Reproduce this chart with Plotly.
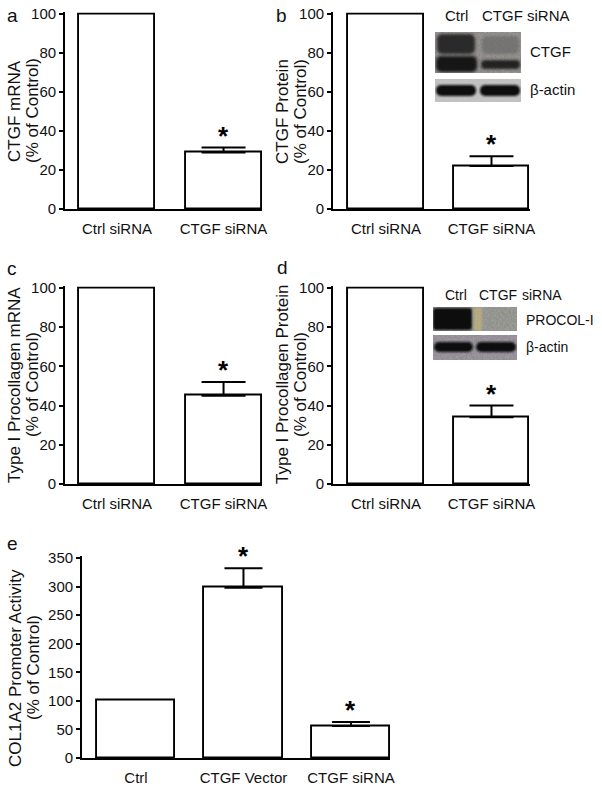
import base64
import plotly.graph_objects as go

W, H = 602, 788

# ---------------- data ----------------
labels_ab = ["Ctrl siRNA", "CTGF siRNA"]
ctgf_mrna = [100, 29]
ctgf_mrna_err = [None, 2.5]
ctgf_protein = [100, 22]
ctgf_protein_err = [None, 5]
procol_mrna = [100, 45]
procol_mrna_err = [None, 7]
procol_protein = [100, 34]
procol_protein_err = [None, 6]
labels_e = ["Ctrl", "CTGF Vector", "CTGF siRNA"]
promoter = [100, 298, 56]
promoter_err = [None, 34, 7]
ticks_ad = [0, 20, 40, 60, 80, 100]
ticks_e = [0, 50, 100, 150, 200, 250, 300, 350]

FONT = "Liberation Sans, Arial, sans-serif"
HEADROOM = 1.008  # tiny extra range so the top outline of full-height bars stays visible


def px(x):
    return x / W


def py(y):
    return 1 - y / H


fig = go.Figure()

panels = [
    dict(ax="", labels=labels_ab, vals=ctgf_mrna, errs=ctgf_mrna_err, xd=(65, 262), yd=(14, 209),
         xr=[-0.488, 1.361], ymax=100, ticks=ticks_ad, bw=0.714, cap=22,
         title=["CTGF mRNA", "(% of Control)"], tx=(15, 33), ty=111, stars=[1]),
    dict(ax="2", labels=labels_ab, vals=ctgf_protein, errs=ctgf_protein_err, xd=(333, 530), yd=(14, 209),
         xr=[-0.502, 1.365], ymax=100, ticks=ticks_ad, bw=0.72, cap=22,
         title=["CTGF Protein", "(% of Control)"], tx=(283, 301), ty=112, stars=[1]),
    dict(ax="3", labels=labels_ab, vals=procol_mrna, errs=procol_mrna_err, xd=(65, 262), yd=(288, 484),
         xr=[-0.488, 1.361], ymax=100, ticks=ticks_ad, bw=0.714, cap=22,
         title=["Type I Procollagen mRNA", "(% of Control)"], tx=(15, 33), ty=385, stars=[1]),
    dict(ax="4", labels=labels_ab, vals=procol_protein, errs=procol_protein_err, xd=(333, 530), yd=(288, 484),
         xr=[-0.502, 1.365], ymax=100, ticks=ticks_ad, bw=0.72, cap=22,
         title=["Type I Procollagen Protein", "(% of Control)"], tx=(283, 301), ty=385, stars=[1]),
    dict(ax="5", labels=labels_e, vals=promoter, errs=promoter_err, xd=(82, 390), yd=(558, 758),
         xr=[-0.502, 2.363], ymax=350, ticks=ticks_e, bw=0.726, cap=19,
         title=["COL1A2 Promoter Activity", "(% of Control)"], tx=(15, 33), ty=668, stars=[1, 2]),
]

annotations = []
layout_axes = {}

for p in panels:
    xa = "x" + p["ax"]
    ya = "y" + p["ax"]
    xs = list(range(len(p["labels"])))
    fig.add_trace(go.Bar(
        x=xs, y=p["vals"], xaxis=xa, yaxis=ya, width=p["bw"],
        marker=dict(color="white", line=dict(color="black", width=1.9)),
        showlegend=False, hoverinfo="skip",
    ))
    ex = [i for i in xs if p["errs"][i] is not None]
    fig.add_trace(go.Scatter(
        x=ex, y=[p["vals"][i] for i in ex], xaxis=xa, yaxis=ya, mode="markers",
        marker=dict(size=1, color="rgba(0,0,0,0)"),
        error_y=dict(type="data", symmetric=False, array=[p["errs"][i] for i in ex],
                     arrayminus=[0] * len(ex), color="black", thickness=2, width=p["cap"]),
        showlegend=False, hoverinfo="skip", cliponaxis=False,
    ))
    top_px, bot_px = p["yd"]
    top_px_ext = bot_px - (bot_px - top_px) * HEADROOM
    xkey = "xaxis" + p["ax"]
    ykey = "yaxis" + p["ax"]
    layout_axes[xkey] = dict(
        domain=[px(p["xd"][0]), px(p["xd"][1])], anchor=ya, range=p["xr"],
        tickmode="array", tickvals=xs, ticktext=p["labels"], automargin=False,
        showline=True, linecolor="black", linewidth=1.8, ticks="outside",
        ticklen=5, tickcolor="rgba(0,0,0,0)", showgrid=False, zeroline=False,
        tickfont=dict(family=FONT, size=15, color="#111"), fixedrange=True,
    )
    layout_axes[ykey] = dict(
        domain=[py(bot_px), py(top_px_ext)], anchor=xa, range=[0, p["ymax"] * HEADROOM],
        tickmode="array", tickvals=p["ticks"], automargin=False,
        showline=True, linecolor="black", linewidth=1.8, ticks="outside",
        ticklen=4, tickwidth=1.5, tickcolor="black", showgrid=False, zeroline=False,
        tickfont=dict(family=FONT, size=15, color="#111"), fixedrange=True,
    )
    for line, tx in zip(p["title"], p["tx"]):
        annotations.append(dict(
            text=line, xref="paper", yref="paper", x=px(tx), y=py(p["ty"]),
            xanchor="center", yanchor="middle", textangle=-90, showarrow=False,
            font=dict(family=FONT, size=17, color="#111"),
        ))
    for i in p["stars"]:
        top = p["vals"][i] + (p["errs"][i] or 0)
        annotations.append(dict(
            text="<b>*</b>", xref=xa, yref=ya, x=i, y=top,
            xanchor="center", yanchor="middle", yshift=12, showarrow=False,
            font=dict(family=FONT, size=26, color="black"),
        ))

for letter, (lx, ly) in {"a": (12, 16), "b": (281, 16), "c": (12, 268),
                         "d": (282, 267), "e": (12, 543)}.items():
    annotations.append(dict(text=letter, xref="paper", yref="paper", x=px(lx), y=py(ly),
                            xanchor="center", yanchor="middle", showarrow=False,
                            font=dict(family=FONT, size=19, color="#111")))

blot_labels = [
    ("Ctrl", 443, 16, 15), ("CTGF siRNA", 480, 16, 15), ("CTGF", 528, 52, 15), ("β-actin", 528, 89, 15),
    ("Ctrl", 443, 295, 14), ("CTGF", 477, 295, 14), ("siRNA", 520, 295, 14),
    ("PROCOL-I", 524, 320, 14), ("β-actin", 524, 347, 14),
]
for t, lx, ly, fs in blot_labels:
    annotations.append(dict(text=t, xref="paper", yref="paper", x=px(lx), y=py(ly),
                            xanchor="left", yanchor="middle", showarrow=False,
                            font=dict(family=FONT, size=fs, color="#111")))


def svg_uri(w, h, bg, noise_op, body, blur=1.6):
    svg = f'''<svg xmlns="http://www.w3.org/2000/svg" width="{w}" height="{h}" viewBox="0 0 {w} {h}">
<defs>
<filter id="n" x="0" y="0" width="100%" height="100%"><feTurbulence type="fractalNoise" baseFrequency="0.55" numOctaves="2" seed="7"/></filter>
<filter id="b" x="-20%" y="-40%" width="140%" height="180%"><feGaussianBlur stdDeviation="{blur}"/></filter>
</defs>
<rect width="{w}" height="{h}" fill="{bg}"/>
<rect width="{w}" height="{h}" filter="url(#n)" opacity="{noise_op}"/>
<g filter="url(#b)">{body}</g>
</svg>'''
    return "data:image/svg+xml;base64," + base64.b64encode(svg.encode()).decode()


ctgf_blot = svg_uri(86, 41, "#85827f", 0.45,
                    '<rect x="2" y="2" width="38" height="20" rx="5" fill="#2c2a2c"/>'
                    '<rect x="1" y="24" width="41" height="16" rx="5" fill="#121212"/>'
                    '<rect x="47" y="4" width="37" height="18" rx="5" fill="#6a6868" opacity="0.7"/>'
                    '<rect x="46" y="28" width="39" height="9" rx="4" fill="#232323"/>')
actin_b = svg_uri(86, 23, "#c2c2c2", 0.12,
                  '<rect x="1" y="6" width="40" height="11" rx="5" fill="#101010"/>'
                  '<rect x="45" y="6" width="40" height="11" rx="5" fill="#101010"/>', blur=1.1)
procol_blot = svg_uri(84, 24, "#8a8c84", 0.45,
                      '<rect x="0" y="1" width="39" height="22" rx="3" fill="#0c0c0c"/>'
                      '<rect x="41" y="0" width="8" height="24" fill="#c9b878" opacity="0.6"/>', blur=1.0)
actin_d = svg_uri(84, 25, "#8c8690", 0.45,
                  '<rect x="1" y="7" width="39" height="10" rx="5" fill="#0e0e0e"/>'
                  '<rect x="43" y="7" width="40" height="10" rx="5" fill="#0e0e0e"/>', blur=1.1)

images = []
for src, x0, y0, x1, y1 in [(ctgf_blot, 435, 32, 521, 73), (actin_b, 435, 79, 521, 102),
                            (procol_blot, 433, 307, 517, 331), (actin_d, 433, 335, 517, 360)]:
    images.append(dict(source=src, xref="paper", yref="paper", x=px(x0), y=py(y0),
                       sizex=px(x1 - x0), sizey=(y1 - y0) / H, xanchor="left", yanchor="top",
                       sizing="stretch", layer="above"))

fig.update_layout(
    width=W, height=H, margin=dict(l=0, r=0, t=0, b=0, pad=0, autoexpand=False),
    paper_bgcolor="white", plot_bgcolor="white",
    annotations=annotations, images=images, bargap=0,
    font=dict(family=FONT, color="#111"),
    **layout_axes,
)

fig.write_html(
    "out.html",
    config={"displayModeBar": False},
    post_script="document.body.style.margin='0';document.body.style.overflow='hidden';",
)
